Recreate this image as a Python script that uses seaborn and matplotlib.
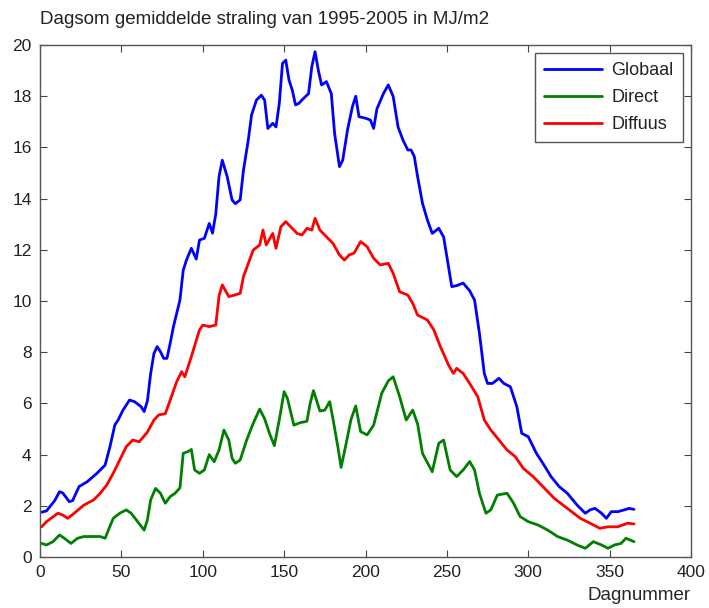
import pandas as pd
import seaborn as sns
import matplotlib.pyplot as plt

# (day number, MJ/m2)
glob_day = [1, 4, 9, 12, 14, 18, 20, 24, 29, 35, 40, 43, 46, 48, 51, 55, 58, 62, 64, 66,
            68, 70, 72, 74, 76, 78, 80, 82, 86, 88, 90, 93, 96, 98, 101, 104, 106, 108, 110, 112,
            115, 118, 120, 123, 125, 128, 130, 133, 136, 138, 140, 143, 145, 147, 149, 151, 153, 155, 157, 159,
            162, 165, 167, 169, 171, 173, 176, 179, 181, 184, 186, 189, 192, 194, 196, 200, 203, 205, 207, 211,
            214, 217, 220, 223, 226, 228, 230, 232, 235, 238, 241, 245, 248, 250, 253, 256, 260, 264, 267, 270,
            273, 275, 278, 282, 285, 289, 293, 296, 300, 305, 309, 314, 319, 324, 330, 335, 338, 341, 345, 348,
            351, 355, 359, 362, 365]
glob_val = [1.75, 1.8, 2.2, 2.55, 2.5, 2.16, 2.2, 2.75, 2.94, 3.27, 3.59, 4.31, 5.16, 5.35, 5.74, 6.13, 6.07, 5.88, 5.68, 6.1,
            7.17, 7.95, 8.22, 8.02, 7.76, 7.76, 8.35, 9.0, 10.04, 11.2, 11.6, 12.06, 11.64, 12.38, 12.45, 13.03, 12.65, 13.4, 14.86, 15.5,
            14.86, 13.95, 13.8, 13.95, 15.1, 16.3, 17.27, 17.85, 18.04, 17.85, 16.74, 16.94, 16.8, 17.7, 19.28, 19.41, 18.63, 18.24, 17.66, 17.72,
            17.92, 18.1, 19.15, 19.74, 19.02, 18.44, 18.57, 18.1, 16.55, 15.25, 15.5, 16.7, 17.6, 18.0, 17.2, 17.14, 17.07, 16.74, 17.5, 18.1,
            18.44, 17.99, 16.8, 16.29, 15.9, 15.9, 15.64, 14.86, 13.82, 13.17, 12.64, 12.84, 12.5, 11.73, 10.56, 10.6, 10.7, 10.4, 10.04, 8.74,
            7.17, 6.78, 6.78, 6.98, 6.78, 6.65, 5.87, 4.83, 4.7, 4.05, 3.66, 3.14, 2.75, 2.49, 2.03, 1.71, 1.84, 1.9, 1.71, 1.51,
            1.77, 1.77, 1.84, 1.9, 1.86]

dir_day = [1, 4, 8, 12, 15, 19, 23, 27, 33, 37, 40, 42, 45, 49, 53, 56, 60, 64, 66, 68,
           71, 74, 77, 80, 83, 86, 88, 91, 93, 95, 98, 101, 104, 107, 110, 113, 116, 118, 120, 123,
           127, 131, 135, 138, 141, 144, 147, 150, 152, 156, 160, 164, 166, 168, 172, 175, 178, 180, 183, 185,
           188, 191, 194, 197, 201, 205, 210, 214, 217, 221, 225, 229, 232, 235, 241, 245, 248, 252, 256, 260,
           264, 267, 270, 274, 277, 281, 287, 291, 295, 300, 306, 312, 318, 324, 330, 335, 340, 345, 349, 353,
           357, 360, 365]
dir_val = [0.53, 0.47, 0.6, 0.86, 0.73, 0.53, 0.73, 0.8, 0.8, 0.8, 0.73, 1.05, 1.51, 1.71, 1.84, 1.71, 1.38, 1.05, 1.45, 2.23,
           2.68, 2.49, 2.1, 2.36, 2.49, 2.7, 4.05, 4.12, 4.2, 3.4, 3.27, 3.4, 4.0, 3.72, 4.18, 4.96, 4.57, 3.86, 3.66, 3.79,
           4.57, 5.22, 5.78, 5.4, 4.83, 4.35, 5.35, 6.46, 6.2, 5.15, 5.25, 5.3, 6.0, 6.5, 5.7, 5.74, 6.07, 5.4, 4.31, 3.5,
           4.4, 5.35, 5.9, 4.9, 4.77, 5.15, 6.4, 6.88, 7.04, 6.26, 5.35, 5.74, 5.2, 4.05, 3.33, 4.44, 4.57, 3.4, 3.14, 3.4,
           3.73, 3.4, 2.49, 1.71, 1.84, 2.42, 2.49, 2.1, 1.58, 1.38, 1.25, 1.05, 0.8, 0.66, 0.47, 0.34, 0.6, 0.47, 0.34, 0.47,
           0.53, 0.73, 0.6]

dif_day = [1, 4, 11, 14, 17, 21, 27, 33, 37, 41, 45, 49, 53, 57, 61, 66, 70, 73, 77, 80,
           84, 87, 89, 93, 98, 100, 104, 108, 110, 112, 116, 120, 123, 125, 128, 131, 135, 137, 139, 143,
           145, 148, 151, 154, 158, 161, 164, 167, 169, 172, 176, 180, 184, 187, 190, 193, 197, 201, 205, 209,
           214, 217, 221, 226, 229, 232, 238, 242, 246, 251, 254, 256, 260, 264, 269, 273, 277, 282, 287, 292,
           297, 303, 309, 316, 324, 332, 338, 344, 349, 355, 361, 365]
dif_val = [1.18, 1.38, 1.71, 1.64, 1.51, 1.71, 2.03, 2.23, 2.49, 2.81, 3.27, 3.79, 4.31, 4.57, 4.5, 4.88, 5.35, 5.55, 5.6, 6.13,
           6.85, 7.24, 7.04, 7.83, 8.87, 9.06, 9.0, 9.06, 10.2, 10.63, 10.17, 10.24, 10.3, 10.95, 11.47, 11.99, 12.19, 12.77, 12.19, 12.64,
           12.06, 12.9, 13.1, 12.9, 12.64, 12.58, 12.84, 12.77, 13.23, 12.77, 12.51, 12.25, 11.8, 11.6, 11.8, 11.87, 12.32, 12.12, 11.67, 11.41,
           11.47, 11.08, 10.36, 10.23, 9.91, 9.45, 9.26, 8.87, 8.22, 7.5, 7.17, 7.37, 7.17, 6.78, 6.26, 5.35, 4.96, 4.57, 4.18, 3.92,
           3.46, 3.14, 2.75, 2.29, 1.9, 1.51, 1.32, 1.12, 1.18, 1.18, 1.32, 1.29]

series = ["Globaal", "Direct", "Diffuus"]
colors = ["#0000ff", "#008000", "#ff0000"]

df = pd.concat([
    pd.DataFrame({"dag": glob_day, "straling": glob_val, "soort": "Globaal"}),
    pd.DataFrame({"dag": dir_day, "straling": dir_val, "soort": "Direct"}),
    pd.DataFrame({"dag": dif_day, "straling": dif_val, "soort": "Diffuus"}),
])

sns.set_style("ticks")
plt.rcParams["font.family"] = ["Liberation Sans", "DejaVu Sans"]
plt.rcParams["text.color"] = "#222222"

fig = plt.figure(figsize=(7.09, 6.08), dpi=100)
ax = fig.add_axes([40 / 709, 1 - 557 / 608, 651 / 709, 512 / 608])

sns.lineplot(data=df, x="dag", y="straling", hue="soort", hue_order=series,
             palette=colors, estimator=None, sort=False, linewidth=2.0, ax=ax)

ax.set_xlim(0, 400)
ax.set_ylim(0, 20)
ax.set_xticks(range(0, 401, 50))
ax.set_yticks(range(0, 21, 2))
ax.tick_params(direction="in", top=True, right=True, length=5, width=0.8,
               labelsize=12.5, colors="#444444", labelcolor="#222222", pad=6)
for s in ax.spines.values():
    s.set_visible(True)
    s.set_color("#555555")
    s.set_linewidth(1.0)

ax.set_xlabel("Dagnummer", loc="right", fontsize=13.5, labelpad=5)
ax.set_ylabel("")

fig.text(40 / 709, 1 - 19 / 608, "Dagsom gemiddelde straling van 1995-2005 in MJ/m2",
         fontsize=13.5, ha="left", va="center")

leg = ax.legend(loc="upper right", fontsize=13, handlelength=3.2, handletextpad=0.55,
                labelspacing=0.55, borderaxespad=0.45, borderpad=0.5,
                fancybox=False, framealpha=1)
leg.get_frame().set_edgecolor("#555555")
leg.get_frame().set_linewidth(1.0)
for line in leg.get_lines():
    line.set_linewidth(2.0)

fig.savefig("out.png", dpi=100)
